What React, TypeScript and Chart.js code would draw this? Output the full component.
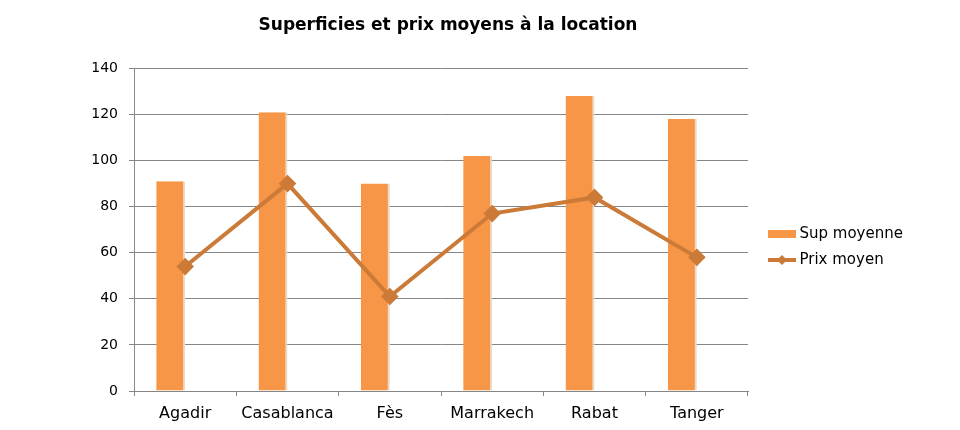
import React, { useEffect, useRef } from "react";
import { Chart, registerables } from "chart.js";

Chart.register(...registerables);

const categories = ["Agadir", "Casablanca", "Fès", "Marrakech", "Rabat", "Tanger"];
const supMoyenne = [91, 121, 90, 102, 128, 118];
const prixMoyen = [54, 90, 41, 77, 84, 58];
const emptySeries = [null, null, null, null, null, null];

const BAR_COLOR = "#F79646";
const LINE_COLOR = "#CB7A38";
const FONT = "'DejaVu Sans', sans-serif";

function makeBarIcon() {
  const c = document.createElement("canvas");
  c.width = 28;
  c.height = 10;
  const ctx = c.getContext("2d")!;
  ctx.fillStyle = BAR_COLOR;
  ctx.fillRect(0, 1, 28, 8);
  return c;
}

function makeLineIcon() {
  const c = document.createElement("canvas");
  c.width = 28;
  c.height = 12;
  const ctx = c.getContext("2d")!;
  ctx.strokeStyle = LINE_COLOR;
  ctx.lineWidth = 4;
  ctx.beginPath();
  ctx.moveTo(0, 6);
  ctx.lineTo(28, 6);
  ctx.stroke();
  ctx.fillStyle = LINE_COLOR;
  ctx.beginPath();
  ctx.moveTo(14, 1);
  ctx.lineTo(19, 6);
  ctx.lineTo(14, 11);
  ctx.lineTo(9, 6);
  ctx.closePath();
  ctx.fill();
  return c;
}

const layoutTweaks = {
  id: "layoutTweaks",
  beforeLayout(chart: any) {
    const lg = chart.legend;
    if (lg && !lg._patched) {
      const orig = lg.fit.bind(lg);
      lg.fit = function () {
        orig();
        this.width = 212;
      };
      lg._patched = true;
    }
  },
  afterLayout(chart: any) {
    const lg = chart.legend;
    if (lg) {
      const dx = 761 - lg.left;
      lg.left += dx;
      lg.right += dx;
      const dy = 26;
      lg.top += dy;
      lg.bottom += dy;
    }
    const tb = chart.titleBlock;
    if (tb) {
      const cx = (tb.left + tb.right) / 2;
      const dx = 448 - cx;
      tb.left += dx;
      tb.right += dx;
    }
  },
};

export default function App() {
  const ref = useRef<HTMLCanvasElement | null>(null);

  useEffect(() => {
    if (!ref.current) return;
    const barIcon = makeBarIcon();
    const lineIcon = makeLineIcon();
    const chart = new Chart(ref.current, {
      type: "bar",
      plugins: [layoutTweaks],
      data: {
        labels: categories,
        datasets: [
          {
            type: "line",
            label: "Prix moyen",
            data: prixMoyen,
            borderColor: LINE_COLOR,
            backgroundColor: LINE_COLOR,
            borderWidth: 4,
            pointStyle: "rectRot",
            pointRadius: 6,
            pointBackgroundColor: LINE_COLOR,
            pointBorderColor: LINE_COLOR,
            tension: 0,
            order: 0,
          } as any,
          {
            type: "bar",
            label: "Sup moyenne",
            data: supMoyenne,
            backgroundColor: BAR_COLOR,
            borderColor: "#EADBC9",
            borderWidth: { right: 2, top: 0, left: 0, bottom: 0 } as any,
            borderSkipped: false,
            categoryPercentage: 0.566,
            barPercentage: 1,
            order: 1,
          },
          {
            type: "bar",
            label: "_hidden",
            data: emptySeries as any,
            backgroundColor: "rgba(0,0,0,0)",
            categoryPercentage: 0.566,
            barPercentage: 1,
            order: 2,
          },
        ],
      },
      options: {
        animation: false,
        responsive: false,
        maintainAspectRatio: false,
        layout: { padding: { left: 0, right: 0, top: 10, bottom: -2 } },
        plugins: {
          title: {
            display: true,
            text: "Superficies et prix moyens à la location",
            color: "#000",
            font: { family: FONT, size: 17, weight: "bold" },
            padding: { top: 5, bottom: 33 },
          },
          legend: {
            position: "right",
            align: "center",
            labels: {
              usePointStyle: true,
              pointStyleWidth: 20,
              color: "#000",
              font: { family: FONT, size: 15 },
              padding: 11,
              generateLabels: () => [
                {
                  text: "Sup moyenne",
                  pointStyle: barIcon as any,
                  fillStyle: BAR_COLOR,
                  strokeStyle: BAR_COLOR,
                  lineWidth: 0,
                  hidden: false,
                  datasetIndex: 1,
                },
                {
                  text: "Prix moyen",
                  pointStyle: lineIcon as any,
                  fillStyle: LINE_COLOR,
                  strokeStyle: LINE_COLOR,
                  lineWidth: 0,
                  hidden: false,
                  datasetIndex: 0,
                },
              ],
            },
          },
          tooltip: { enabled: false },
        },
        scales: {
          x: {
            offset: true,
            grid: {
              offset: true,
              drawOnChartArea: false,
              drawTicks: true,
              tickLength: 5,
              color: "#868686",
            },
            border: { display: true, color: "#868686", width: 1 },
            ticks: {
              color: "#000",
              font: { family: FONT, size: 16, lineHeight: 1 },
              padding: 10,
            },
          },
          y: {
            min: 0,
            max: 140,
            afterFit: (s: any) => {
              s.width = 134;
            },
            ticks: {
              stepSize: 20,
              color: "#000",
              font: { family: FONT, size: 14 },
              padding: 11,
            },
            grid: {
              color: "#868686",
              tickLength: 5,
              drawTicks: true,
            },
            border: { display: true, color: "#868686", width: 1 },
          },
        },
      },
    });
    return () => chart.destroy();
  }, []);

  return (
    <div style={{ position: "fixed", left: 0, top: 0, width: 960, height: 430, background: "#fff" }}>
      <canvas ref={ref} width={960} height={430} style={{ width: 960, height: 430 }} />
    </div>
  );
}
